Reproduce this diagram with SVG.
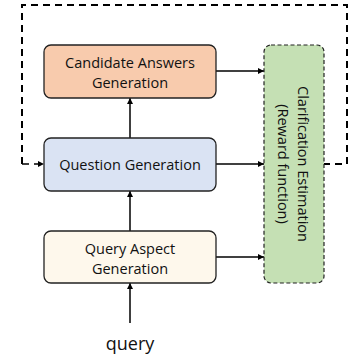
<svg xmlns="http://www.w3.org/2000/svg" width="352" height="360" viewBox="0 0 352 360">
<defs>
<marker id="ah" viewBox="0 0 10 10" refX="10" refY="5" markerWidth="6" markerHeight="6" markerUnits="userSpaceOnUse" orient="auto">
<path d="M0,0 L10,5 L0,10 z" fill="#000"/>
</marker>
<style>
.box{stroke:#222;stroke-width:1.3}
.t{font-family:"Open Sans","Liberation Sans",sans-serif;font-size:14.5px;fill:#111;text-anchor:middle;dominant-baseline:central}
.c{stroke:#000;stroke-width:1.5;fill:none;marker-end:url(#ah)}
.loop{stroke:#000;stroke-width:2;fill:none;stroke-dasharray:7 5}
</style>
</defs>
<rect width="352" height="360" fill="#fff"/>
<g id="connectors">
<path class="loop" d="M323,164 H347 V5 H22 V164"/>
<path class="c" d="M22,164 H44" style="stroke-dasharray:7 5"/>
<path class="c" d="M130,138 V98"/>
<path class="c" d="M130,231 V191"/>
<path class="c" d="M130,323 V283"/>
<path class="c" d="M216,71 H264"/>
<path class="c" d="M216,164 H264"/>
<path class="c" d="M216,257 H264"/>
</g>
<g id="candidate">
<rect class="box" x="44" y="45" width="172" height="53" rx="7" fill="#F8CBAD"/>
<text class="t" x="130" y="62">Candidate Answers</text>
<text class="t" x="130" y="82">Generation</text>
</g>
<g id="question">
<rect class="box" x="44" y="138" width="172" height="53" rx="7" fill="#DAE3F3"/>
<text class="t" x="130" y="164">Question Generation</text>
</g>
<g id="aspect">
<rect class="box" x="44" y="231" width="172" height="52" rx="7" fill="#FEF8EC"/>
<text class="t" x="130" y="248">Query Aspect</text>
<text class="t" x="130" y="268">Generation</text>
</g>
<g id="reward">
<rect x="264" y="45" width="60" height="238" rx="7" fill="#C5E0B4" stroke="#222" stroke-width="1.2" stroke-dasharray="4 2.5"/>
<g transform="translate(293,164) rotate(90)">
<text class="t" x="0" y="-10">Clarification Estimation</text>
<text class="t" x="0" y="10">(Reward function)</text>
</g>
</g>
<g id="query">
<text class="t" x="130" y="343" style="font-size:18px">query</text>
</g>
</svg>
